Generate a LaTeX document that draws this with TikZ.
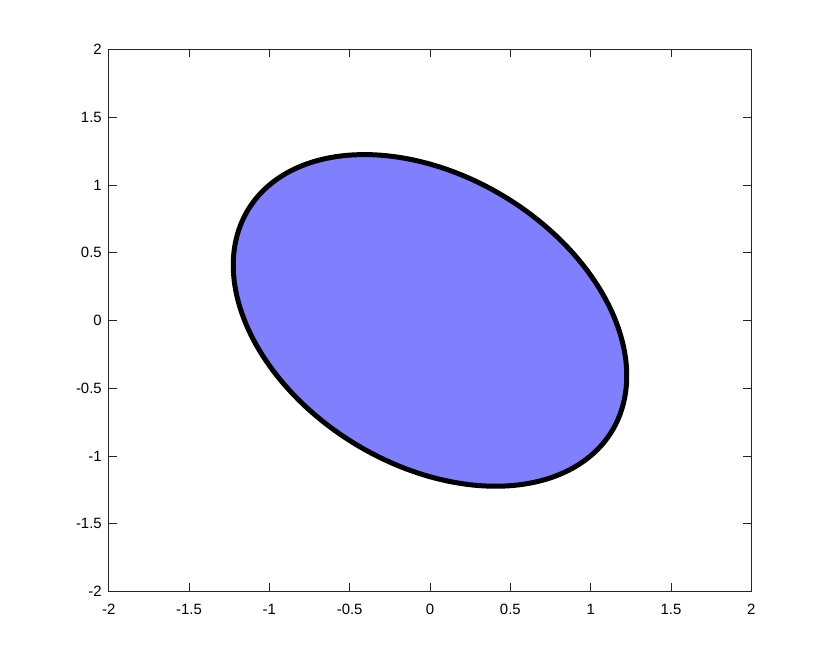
\documentclass[tikz,border=0pt]{standalone}
\usepackage{fontspec}
\setmainfont{Liberation Sans}

\begin{document}
\begin{tikzpicture}[x=0.75pt,y=0.75pt,yscale=-1]
%set diagram size to 830 x 664
\path[use as bounding box] (0,0) rectangle (830,664);

%Ellipse (filled)
\begin{scope}[shift={(430,320.4)},xscale=160.65,yscale=-135.4]
\draw [color=black ,draw opacity=1 ][fill={rgb, 255:red, 128; green, 128; blue, 255 } ,fill opacity=1 ][line width=3.75, line join=round]  plot [domain=0:360, samples=181, variable=\t] ({cos(\t)+sin(\t)/sqrt(2)},{-cos(\t)+sin(\t)/sqrt(2)}) -- cycle ;
\end{scope}

%Ticks
\foreach \v in {-2,-1.5,-1,-0.5,0,0.5,1,1.5,2} {
  \draw [color={rgb, 255:red, 38; green, 38; blue, 38 }][line width=0.5]  ({430+160.65*(\v)},591.3) -- ++(0,-8) ;
  \draw [color={rgb, 255:red, 38; green, 38; blue, 38 }][line width=0.5]  ({430+160.65*(\v)},49.3) -- ++(0,8) ;
  \draw [color={rgb, 255:red, 38; green, 38; blue, 38 }][line width=0.5]  (108.7,{320.4-135.5*(\v)}) -- ++(8,0) ;
  \draw [color={rgb, 255:red, 38; green, 38; blue, 38 }][line width=0.5]  (751.3,{320.4-135.5*(\v)}) -- ++(-8,0) ;
}

%Axes box
\draw [color={rgb, 255:red, 38; green, 38; blue, 38 }][line width=0.75]  (108.7,49.3) rectangle (751.3,591.3) ;

% Text Node
\foreach \v in {-2,-1.5,-1,-0.5,0,0.5,1,1.5,2} {
  \draw ({430+160.65*(\v)},602.5) node [anchor=north][inner sep=0.75pt]  {\fontsize{11.2}{13}\selectfont \v};
  \draw (103,{320.4-135.5*(\v)}) node [anchor=east][inner sep=0.75pt]  {\fontsize{11.2}{13}\selectfont \v};
}

\end{tikzpicture}
\end{document}
